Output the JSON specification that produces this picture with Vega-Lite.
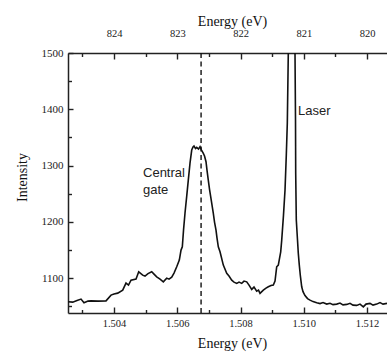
{
  "$schema": "https://vega.github.io/schema/vega-lite/v6.json",
  "width": 319,
  "height": 260,
  "autosize": "none",
  "padding": {"left": 68, "top": 53, "right": 0, "bottom": 39},
  "config": {
    "view": {"stroke": null},
    "axis": {
      "grid": false,
      "labelFont": "Liberation Serif",
      "titleFont": "Liberation Serif",
      "labelColor": "#222",
      "titleColor": "#111",
      "titleFontWeight": "normal",
      "domainColor": "#222",
      "tickColor": "#222",
      "domainWidth": 1.5,
      "tickWidth": 1.4
    }
  },
  "datasets": {
    "spectrum": [
      {"energy": 1.502545, "intensity": 1057.9},
      {"energy": 1.502694, "intensity": 1057.3},
      {"energy": 1.50283, "intensity": 1060},
      {"energy": 1.502957, "intensity": 1062.7},
      {"energy": 1.503051, "intensity": 1056.1},
      {"energy": 1.503178, "intensity": 1059.1},
      {"energy": 1.503273, "intensity": 1059.6},
      {"energy": 1.503494, "intensity": 1059.1},
      {"energy": 1.503747, "intensity": 1059.6},
      {"energy": 1.503905, "intensity": 1069.8},
      {"energy": 1.504, "intensity": 1071.6},
      {"energy": 1.504117, "intensity": 1073.3},
      {"energy": 1.504275, "intensity": 1078.7},
      {"energy": 1.504379, "intensity": 1091.1},
      {"energy": 1.504458, "intensity": 1087.6},
      {"energy": 1.504538, "intensity": 1096.4},
      {"energy": 1.504696, "intensity": 1098.2},
      {"energy": 1.504781, "intensity": 1111.2},
      {"energy": 1.504907, "intensity": 1105.3},
      {"energy": 1.50498, "intensity": 1103.6},
      {"energy": 1.505075, "intensity": 1108},
      {"energy": 1.505192, "intensity": 1111.2},
      {"energy": 1.505265, "intensity": 1107.1},
      {"energy": 1.50535, "intensity": 1102.3},
      {"energy": 1.505455, "intensity": 1098.2},
      {"energy": 1.505559, "intensity": 1093.4},
      {"energy": 1.505666, "intensity": 1100},
      {"energy": 1.505739, "intensity": 1098.2},
      {"energy": 1.505825, "intensity": 1101.8},
      {"energy": 1.505897, "intensity": 1108.9},
      {"energy": 1.505983, "intensity": 1120.1},
      {"energy": 1.506065, "intensity": 1132},
      {"energy": 1.506119, "intensity": 1149.8},
      {"energy": 1.50616, "intensity": 1155.6},
      {"energy": 1.506198, "intensity": 1185.3},
      {"energy": 1.506245, "intensity": 1215.6},
      {"energy": 1.506299, "intensity": 1245.8},
      {"energy": 1.506349, "intensity": 1274.2},
      {"energy": 1.506403, "intensity": 1304.4},
      {"energy": 1.506457, "intensity": 1327.6},
      {"energy": 1.506498, "intensity": 1332.9},
      {"energy": 1.50653, "intensity": 1334.7},
      {"energy": 1.506577, "intensity": 1330.2},
      {"energy": 1.506615, "intensity": 1332.4},
      {"energy": 1.506672, "intensity": 1329.3},
      {"energy": 1.506719, "intensity": 1333.4},
      {"energy": 1.506767, "intensity": 1327.6},
      {"energy": 1.506824, "intensity": 1321.7},
      {"energy": 1.506862, "intensity": 1316.9},
      {"energy": 1.506909, "intensity": 1306.8},
      {"energy": 1.50694, "intensity": 1292},
      {"energy": 1.506981, "intensity": 1274.2},
      {"energy": 1.507019, "intensity": 1258.2},
      {"energy": 1.507058, "intensity": 1244.5},
      {"energy": 1.507099, "intensity": 1229.8},
      {"energy": 1.50714, "intensity": 1215},
      {"energy": 1.507178, "intensity": 1199.6},
      {"energy": 1.507225, "intensity": 1185.3},
      {"energy": 1.507257, "intensity": 1171.1},
      {"energy": 1.507298, "intensity": 1155.6},
      {"energy": 1.507352, "intensity": 1146.8},
      {"energy": 1.507456, "intensity": 1123.1},
      {"energy": 1.507564, "intensity": 1108.4},
      {"energy": 1.507636, "intensity": 1103.6},
      {"energy": 1.507722, "intensity": 1096.4},
      {"energy": 1.507794, "intensity": 1092.9},
      {"energy": 1.50788, "intensity": 1090.6},
      {"energy": 1.507953, "intensity": 1092.9},
      {"energy": 1.508038, "intensity": 1090.6},
      {"energy": 1.508111, "intensity": 1094.7},
      {"energy": 1.508196, "intensity": 1093.4},
      {"energy": 1.508269, "intensity": 1087.6},
      {"energy": 1.508354, "intensity": 1079.9},
      {"energy": 1.508427, "intensity": 1084},
      {"energy": 1.508512, "intensity": 1076.9},
      {"energy": 1.508569, "intensity": 1078.7},
      {"energy": 1.508617, "intensity": 1072.8},
      {"energy": 1.508721, "intensity": 1078.7},
      {"energy": 1.508806, "intensity": 1082.2},
      {"energy": 1.508879, "intensity": 1084.5},
      {"energy": 1.508964, "intensity": 1086.7},
      {"energy": 1.509037, "intensity": 1087.6},
      {"energy": 1.509091, "intensity": 1094.7},
      {"energy": 1.509144, "intensity": 1120.1},
      {"energy": 1.509195, "intensity": 1123.1},
      {"energy": 1.509271, "intensity": 1146.8},
      {"energy": 1.509303, "intensity": 1167.6},
      {"energy": 1.509359, "intensity": 1212},
      {"energy": 1.509407, "intensity": 1256.4},
      {"energy": 1.509448, "intensity": 1318.7},
      {"energy": 1.50948, "intensity": 1375.6},
      {"energy": 1.509511, "intensity": 1500},
      {"energy": 1.509549, "intensity": 1650},
      {"energy": 1.509613, "intensity": 2300},
      {"energy": 1.509676, "intensity": 1650},
      {"energy": 1.509723, "intensity": 1500},
      {"energy": 1.509739, "intensity": 1380.9},
      {"energy": 1.509745, "intensity": 1286.7},
      {"energy": 1.509764, "intensity": 1203.1},
      {"energy": 1.509802, "intensity": 1167.6},
      {"energy": 1.509827, "intensity": 1144.4},
      {"energy": 1.509859, "intensity": 1123.1},
      {"energy": 1.50989, "intensity": 1105.3},
      {"energy": 1.509935, "intensity": 1084.5},
      {"energy": 1.509976, "intensity": 1076},
      {"energy": 1.510039, "intensity": 1068.9},
      {"energy": 1.510119, "intensity": 1063.6},
      {"energy": 1.510198, "intensity": 1060.9},
      {"energy": 1.510293, "intensity": 1058.2},
      {"energy": 1.51041, "intensity": 1056.1},
      {"energy": 1.510514, "intensity": 1054.7},
      {"energy": 1.510609, "intensity": 1056.5},
      {"energy": 1.510726, "intensity": 1053.8},
      {"energy": 1.51083, "intensity": 1055.2},
      {"energy": 1.510925, "intensity": 1052.9},
      {"energy": 1.511042, "intensity": 1053.8},
      {"energy": 1.511146, "intensity": 1055.6},
      {"energy": 1.511241, "intensity": 1052.4},
      {"energy": 1.511358, "intensity": 1053.3},
      {"energy": 1.511463, "intensity": 1055.2},
      {"energy": 1.511557, "intensity": 1052},
      {"energy": 1.511674, "intensity": 1051.5},
      {"energy": 1.511779, "intensity": 1053.8},
      {"energy": 1.511883, "intensity": 1049},
      {"energy": 1.511968, "intensity": 1053.8},
      {"energy": 1.512095, "intensity": 1055.1},
      {"energy": 1.51219, "intensity": 1052},
      {"energy": 1.512307, "intensity": 1053.8},
      {"energy": 1.512411, "intensity": 1056.5},
      {"energy": 1.512506, "intensity": 1053.8},
      {"energy": 1.512632, "intensity": 1055.1}
    ],
    "gate": [
      {"energy": 1.504917, "intensity": 1286.7, "label": "Central"},
      {"energy": 1.504917, "intensity": 1256.4, "label": "gate"}
    ],
    "laser": [
      {"energy": 1.509818, "intensity": 1396.9, "label": "Laser"}
    ],
    "marker": [
      {"energy": 1.506753}
    ]
  },
  "layer": [
    {
      "data": {"name": "spectrum"},
      "mark": {"type": "line", "color": "#111", "strokeWidth": 1.6, "clip": true},
      "encoding": {
        "x": {
          "field": "energy", "type": "quantitative",
          "scale": {"domain": [1.502545, 1.512632], "nice": false, "zero": false},
          "axis": {
            "orient": "bottom",
            "values": [1.504, 1.506, 1.508, 1.51, 1.512],
            "format": ".3f",
            "labelFontSize": 10.5,
            "labelPadding": 11,
            "tickSize": -6,
            "title": "Energy (eV)",
            "titleFontSize": 14,
            "titleBaseline": "middle",
            "titleX": 164,
            "titleY": 30
          }
        },
        "y": {
          "field": "intensity", "type": "quantitative",
          "scale": {"domain": [1038, 1500], "nice": false, "zero": false},
          "axis": {
            "orient": "left",
            "values": [1100, 1200, 1300, 1400, 1500],
            "format": "d",
            "labelFontSize": 11,
            "labelPadding": 10,
            "tickSize": -5,
            "title": "Intensity",
            "titleFontSize": 14,
            "titleBaseline": "middle",
            "titleX": -46,
            "titleY": 124
          }
        }
      }
    },
    {
      "data": {"name": "marker"},
      "mark": {"type": "rule", "color": "#111", "strokeWidth": 1.4, "strokeDash": [5, 3.5]},
      "encoding": {
        "x": {
          "field": "energy", "type": "quantitative",
          "axis": {
            "orient": "top",
            "values": [1.504, 1.506, 1.508, 1.51, 1.512],
            "labelExpr": "format(824 - (datum.value - 1.504) * 500, '.0f')",
            "labelFontSize": 10.5,
            "labelPadding": 21,
            "tickSize": -6,
            "title": "Energy (eV)",
            "titleFontSize": 14,
            "titleBaseline": "middle",
            "titleX": 164,
            "titleY": -32
          }
        }
      }
    },
    {
      "data": {"name": "gate"},
      "mark": {"type": "text", "font": "Liberation Sans", "fontSize": 13, "align": "left", "baseline": "middle", "color": "#222"},
      "encoding": {
        "x": {
          "field": "energy", "type": "quantitative",
          "axis": {"orient": "bottom", "values": [1.503, 1.505, 1.507, 1.509, 1.511], "labels": false, "domain": false, "tickSize": -3.5, "title": null}
        },
        "y": {
          "field": "intensity", "type": "quantitative",
          "axis": {"orient": "left", "values": [1050, 1150, 1250, 1350, 1450], "labels": false, "domain": false, "tickSize": -3.5, "title": null}
        },
        "text": {"field": "label"}
      }
    },
    {
      "data": {"name": "laser"},
      "mark": {"type": "text", "font": "Liberation Sans", "fontSize": 13, "align": "left", "baseline": "middle", "color": "#222"},
      "encoding": {
        "x": {
          "field": "energy", "type": "quantitative",
          "axis": {"orient": "top", "values": [1.503, 1.505, 1.507, 1.509, 1.511], "labels": false, "domain": false, "tickSize": -3.5, "title": null}
        },
        "y": {
          "field": "intensity", "type": "quantitative",
          "axis": null
        },
        "text": {"field": "label"}
      }
    }
  ],
  "resolve": {"axis": {"x": "independent", "y": "independent"}}
}
